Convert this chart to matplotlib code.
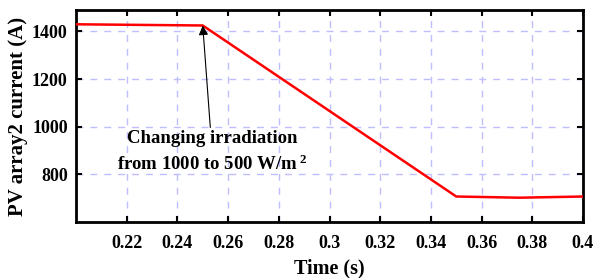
import matplotlib
matplotlib.use("Agg")
import matplotlib.pyplot as plt

time_s = [0.2, 0.25, 0.35, 0.375, 0.4]
current_a = [1430, 1425, 707, 702, 707]
x_ticks = [0.22, 0.24, 0.26, 0.28, 0.3, 0.32, 0.34, 0.36, 0.38, 0.4]
x_tick_labels = ["0.22", "0.24", "0.26", "0.28", "0.3", "0.32", "0.34", "0.36", "0.38", "0.4"]
y_ticks = [800, 1000, 1200, 1400]

plt.rcParams['font.family'] = ['Liberation Serif', 'DejaVu Serif']
plt.rcParams['font.weight'] = 'bold'
plt.rcParams['mathtext.fontset'] = 'custom'
plt.rcParams['mathtext.rm'] = 'Liberation Serif:bold'
plt.rcParams['mathtext.it'] = 'Liberation Serif:bold'
plt.rcParams['mathtext.bf'] = 'Liberation Serif:bold'

fig = plt.figure(figsize=(5.95, 2.78), dpi=100)
ax = fig.add_axes([76/595, 1-222/278, (583-76)/595, (222-10)/278])

ax.plot(time_s, current_a, color='#ff0000', lw=1.8, zorder=3)
ax.set_xlim(0.2, 0.4)
ax.set_ylim(600, 1490)
ax.set_xticks(x_ticks)
ax.set_xticklabels(x_tick_labels)
ax.set_yticks(y_ticks)
ax.grid(True, color=(0.75, 0.75, 1.0), linestyle=(0, (5, 5)), lw=1.0)
ax.tick_params(direction='in', top=True, right=True, length=4, width=1.5,
               labelsize=13)
ax.tick_params(axis='x', pad=9)
ax.tick_params(axis='y', pad=6)
for s in ax.spines.values():
    s.set_linewidth(2)
for lab in ax.get_xticklabels() + ax.get_yticklabels():
    lab.set_fontweight('bold')

ax.set_xlabel('Time (s)', fontsize=14.5, fontweight='bold', labelpad=5)
ax.set_ylabel('PV array2 current (A)', fontsize=15, fontweight='bold', labelpad=3)

ax.annotate('Changing irradiation\nfrom 1000 to 500 W/m$^{\\ 2}$',
            xy=(0.25, 1425), xytext=(0.2537, 985),
            textcoords='data', ha='center', va='top', fontsize=13.5,
            fontweight='bold', linespacing=1.45,
            arrowprops=dict(arrowstyle='-|>', color='black', lw=0.8,
                            mutation_scale=14, shrinkA=0, shrinkB=0))

fig.savefig('out.png', dpi=100)
